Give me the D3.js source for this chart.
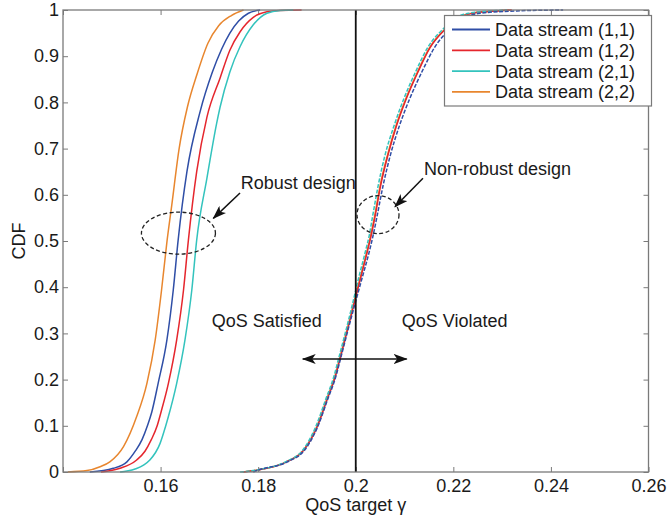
<!DOCTYPE html>
<html>
<head>
<meta charset="utf-8">
<script src="https://cdn.jsdelivr.net/npm/d3@7"></script>
<style>
  body { margin: 0; background: #fff; }
  svg { display: block; }
  text { font-family: "Liberation Sans", Arial, Helvetica, sans-serif; fill: #1a1a1a; }
</style>
</head>
<body>
<svg id="chart" width="667" height="520"></svg>
<script>
// ---- series ----
const seriesNames  = ["Data stream (1,1)", "Data stream (1,2)", "Data stream (2,1)", "Data stream (2,2)"];
const seriesColors = ["#2f4ea6", "#e5262d", "#33c3bd", "#e8862e"];

// Robust design: empirical CDF samples (QoS value, CDF)
const robustQ11 = [0.1455, 0.1503, 0.1531, 0.1548, 0.1562, 0.1573, 0.1582, 0.1595, 0.1613, 0.1626, 0.1636, 0.1654, 0.1681, 0.1706, 0.1725, 0.1742, 0.1760, 0.1780, 0.1804];
const robustF11 = [0, 0.008, 0.022, 0.045, 0.07, 0.1, 0.13, 0.192, 0.286, 0.394, 0.502, 0.65, 0.78, 0.865, 0.915, 0.95, 0.976, 0.993, 1];

const robustQ12 = [0.1478, 0.1517, 0.1551, 0.1568, 0.1581, 0.1593, 0.1601, 0.1616, 0.1633, 0.1647, 0.1657, 0.1674, 0.1695, 0.1722, 0.1742, 0.1763, 0.1790, 0.1818, 0.1845, 0.1889];
const robustF12 = [0, 0.008, 0.026, 0.045, 0.07, 0.1, 0.13, 0.192, 0.286, 0.394, 0.502, 0.65, 0.768, 0.853, 0.913, 0.953, 0.984, 0.996, 0.999, 1];

const robustQ21 = [0.1517, 0.1531, 0.1565, 0.1578, 0.1599, 0.1610, 0.1616, 0.1633, 0.1650, 0.1664, 0.1674, 0.1695, 0.1715, 0.1722, 0.1742, 0.1763, 0.1790, 0.1818, 0.1845, 0.1872];
const robustF21 = [0, 0.002, 0.015, 0.026, 0.062, 0.098, 0.12, 0.192, 0.286, 0.394, 0.502, 0.636, 0.755, 0.79, 0.866, 0.921, 0.968, 0.993, 0.999, 1];

const robustQ22 = [0.1410, 0.1449, 0.1476, 0.1496, 0.1524, 0.1551, 0.1572, 0.1589, 0.1602, 0.1613, 0.1623, 0.1638, 0.1655, 0.1675, 0.1697, 0.1719, 0.1745, 0.1770];
const robustF22 = [0, 0.003, 0.0115, 0.022, 0.055, 0.12, 0.192, 0.286, 0.394, 0.498, 0.578, 0.70, 0.79, 0.862, 0.928, 0.966, 0.988, 1];

// Non-robust design: the four streams almost coincide
const plainF   = [0, 0.004, 0.022, 0.047, 0.098, 0.156, 0.206, 0.246, 0.307, 0.362, 0.416, 0.474, 0.514, 0.55, 0.62, 0.686, 0.751, 0.809, 0.867, 0.918, 0.961, 0.98, 0.993, 0.998, 1];
const plainQ11 = [0.1790, 0.1800, 0.1860, 0.1895, 0.1922, 0.1942, 0.1959, 0.1969, 0.1984, 0.1998, 0.2012, 0.2027, 0.2036, 0.2043, 0.2056, 0.2071, 0.2090, 0.2111, 0.2136, 0.2161, 0.2195, 0.2215, 0.2255, 0.2330, 0.2425];
const plainQ12 = [0.1770, 0.1797, 0.1858, 0.1893, 0.1921, 0.1941, 0.1958, 0.1968, 0.1983, 0.1996, 0.2009, 0.2023, 0.2032, 0.2039, 0.2051, 0.2066, 0.2084, 0.2104, 0.2128, 0.2152, 0.2186, 0.2205, 0.2240, 0.2290, 0.2320];
const plainQ21 = [0.1763, 0.1795, 0.1856, 0.1891, 0.1918, 0.1938, 0.1955, 0.1965, 0.1980, 0.1993, 0.2005, 0.2019, 0.2028, 0.2034, 0.2046, 0.2060, 0.2079, 0.2099, 0.2123, 0.2147, 0.2181, 0.2200, 0.2232, 0.2280, 0.2310];
const plainQ22 = [0.1768, 0.1797, 0.1858, 0.1893, 0.1920, 0.1940, 0.1957, 0.1967, 0.1982, 0.1995, 0.2008, 0.2022, 0.2031, 0.2038, 0.2050, 0.2065, 0.2083, 0.2103, 0.2127, 0.2151, 0.2185, 0.2204, 0.2238, 0.2288, 0.2318];

// ---- axes ----
const xDomain = [0.14, 0.26];
const yDomain = [0, 1];
const xTicks = [0.14, 0.16, 0.18, 0.2, 0.22, 0.24, 0.26];
const xTickLabels = ["", "0.16", "0.18", "0.2", "0.22", "0.24", "0.26"];
const yTicks = [0, 0.1, 0.2, 0.3, 0.4, 0.5, 0.6, 0.7, 0.8, 0.9, 1];
const yTickLabels = ["0", "0.1", "0.2", "0.3", "0.4", "0.5", "0.6", "0.7", "0.8", "0.9", "1"];
const qosTarget = 0.2;

const W = 667, H = 520;
const margin = { top: 10, right: 18.5, bottom: 48, left: 63 };
const svg = d3.select("#chart");
const x = d3.scaleLinear().domain(xDomain).range([margin.left, W - margin.right]);
const y = d3.scaleLinear().domain(yDomain).range([H - margin.bottom, margin.top]);

const frameColor = "#7a7a7a";
const fontSize = 18;

// tick marks on all four sides, pointing inward
function styleAxis(g) {
  g.select(".domain").remove();
  g.selectAll(".tick line").attr("stroke", frameColor).attr("stroke-width", 1);
  g.selectAll(".tick text").attr("font-size", fontSize).attr("fill", "#1a1a1a")
    .style("font-family", "'Liberation Sans', Arial, sans-serif");
}
svg.append("g").attr("transform", `translate(0,${y(0)})`)
  .call(d3.axisBottom(x).tickValues(xTicks).tickFormat((d, i) => xTickLabels[i]).tickSizeInner(-5).tickSizeOuter(0).tickPadding(7))
  .call(styleAxis);
svg.append("g").attr("transform", `translate(0,${y(1)})`)
  .call(d3.axisTop(x).tickValues(xTicks).tickFormat("").tickSizeInner(-5).tickSizeOuter(0))
  .call(styleAxis);
svg.append("g").attr("transform", `translate(${x(xDomain[0])},0)`)
  .call(d3.axisLeft(y).tickValues(yTicks).tickFormat((d, i) => yTickLabels[i]).tickSizeInner(-5).tickSizeOuter(0).tickPadding(4))
  .call(styleAxis);
svg.append("g").attr("transform", `translate(${x(xDomain[1])},0)`)
  .call(d3.axisRight(y).tickValues(yTicks).tickFormat("").tickSizeInner(-5).tickSizeOuter(0))
  .call(styleAxis);

// ---- curves ----
const line = d3.line().x(d => x(d[0])).y(d => y(d[1])).curve(d3.curveMonotoneX);
const zip = (a, b) => a.map((v, i) => [v, b[i]]);

const robust = [zip(robustQ11, robustF11), zip(robustQ12, robustF12), zip(robustQ21, robustF21), zip(robustQ22, robustF22)];
const plain  = [zip(plainQ11, plainF), zip(plainQ12, plainF), zip(plainQ21, plainF), zip(plainQ22, plainF)];
const plainDash = ["4,1.6", null, "4,1.6", null];
const plainOrder = [3, 1, 2, 0];

const curves = svg.append("g").attr("fill", "none").attr("stroke-width", 1.5).attr("stroke-linejoin", "round");
robust.forEach((pts, i) => {
  curves.append("path").attr("d", line(pts)).attr("stroke", seriesColors[i]);
});
plainOrder.forEach(i => {
  curves.append("path").attr("d", line(plain[i])).attr("stroke", seriesColors[i])
    .attr("stroke-dasharray", plainDash[i]);
});

// QoS target line
svg.append("line")
  .attr("x1", x(qosTarget)).attr("x2", x(qosTarget))
  .attr("y1", y(0)).attr("y2", y(1))
  .attr("stroke", "#111").attr("stroke-width", 1.8);

// frame
svg.append("rect")
  .attr("x", x(xDomain[0])).attr("y", y(1))
  .attr("width", x(xDomain[1]) - x(xDomain[0])).attr("height", y(0) - y(1))
  .attr("fill", "none").attr("stroke", frameColor).attr("stroke-width", 1.3);

// ---- axis titles ----
svg.append("text")
  .attr("x", (x(xDomain[0]) + x(xDomain[1])) / 2).attr("y", 510.5)
  .attr("text-anchor", "middle").attr("font-size", fontSize)
  .text("QoS target γ");
svg.append("text")
  .attr("transform", `translate(25,${(y(0) + y(1)) / 2}) rotate(-90)`)
  .attr("text-anchor", "middle").attr("font-size", fontSize)
  .text("CDF");

// ---- annotations ----
const defs = svg.append("defs");
defs.append("marker").attr("id", "head")
  .attr("viewBox", "0 0 14 10").attr("refX", 13).attr("refY", 5)
  .attr("markerWidth", 14).attr("markerHeight", 10)
  .attr("markerUnits", "userSpaceOnUse").attr("orient", "auto-start-reverse")
  .append("path").attr("d", "M0,0 L14,5 L0,10 L3.5,5 Z").attr("fill", "#111");

const ann = svg.append("g");
// dashed ellipses around the two families
ann.append("ellipse")
  .attr("cx", x(0.16366)).attr("cy", y(0.517)).attr("rx", 37).attr("ry", 21)
  .attr("fill", "none").attr("stroke", "#222").attr("stroke-width", 1.3).attr("stroke-dasharray", "4,2.5");
ann.append("ellipse")
  .attr("cx", x(0.20456)).attr("cy", y(0.557)).attr("rx", 21).attr("ry", 19)
  .attr("fill", "none").attr("stroke", "#222").attr("stroke-width", 1.3).attr("stroke-dasharray", "4,2.5");

// pointer arrows
ann.append("line")
  .attr("x1", x(0.17628)).attr("y1", y(0.604)).attr("x2", x(0.17081)).attr("y2", y(0.549))
  .attr("stroke", "#111").attr("stroke-width", 1.5).attr("marker-end", "url(#head)");
ann.append("line")
  .attr("x1", x(0.21378)).attr("y1", y(0.636)).attr("x2", x(0.20804)).attr("y2", y(0.574))
  .attr("stroke", "#111").attr("stroke-width", 1.5).attr("marker-end", "url(#head)");
// two-headed arrow across the QoS target
ann.append("line")
  .attr("x1", x(0.18913)).attr("y1", y(0.2446)).attr("x2", x(0.21044)).attr("y2", y(0.2446))
  .attr("stroke", "#111").attr("stroke-width", 1.5)
  .attr("marker-start", "url(#head)").attr("marker-end", "url(#head)");

const labels = [
  { t: "Robust design", q: 0.17642, f: 0.6136 },
  { t: "Non-robust design", q: 0.21399, f: 0.643 },
  { t: "QoS Satisfied", q: 0.17048, f: 0.3128 },
  { t: "QoS Violated", q: 0.20942, f: 0.3128 }
];
ann.selectAll("text.note").data(labels).join("text").attr("class", "note")
  .attr("x", d => x(d.q)).attr("y", d => y(d.f)).attr("font-size", fontSize)
  .text(d => d.t);

// ---- legend ----
const lg = svg.append("g");
lg.append("rect").attr("x", 444.5).attr("y", 15.5).attr("width", 207).attr("height", 90.5)
  .attr("fill", "#fff").attr("stroke", frameColor).attr("stroke-width", 1.2);
seriesNames.forEach((name, i) => {
  const cy = 29.5 + i * 20.8;
  lg.append("line").attr("x1", 452).attr("x2", 490).attr("y1", cy).attr("y2", cy)
    .attr("stroke", seriesColors[i]).attr("stroke-width", 1.8);
  lg.append("text").attr("x", 495).attr("y", cy + 6.5).attr("font-size", fontSize).text(name);
});
</script>
</body>
</html>
